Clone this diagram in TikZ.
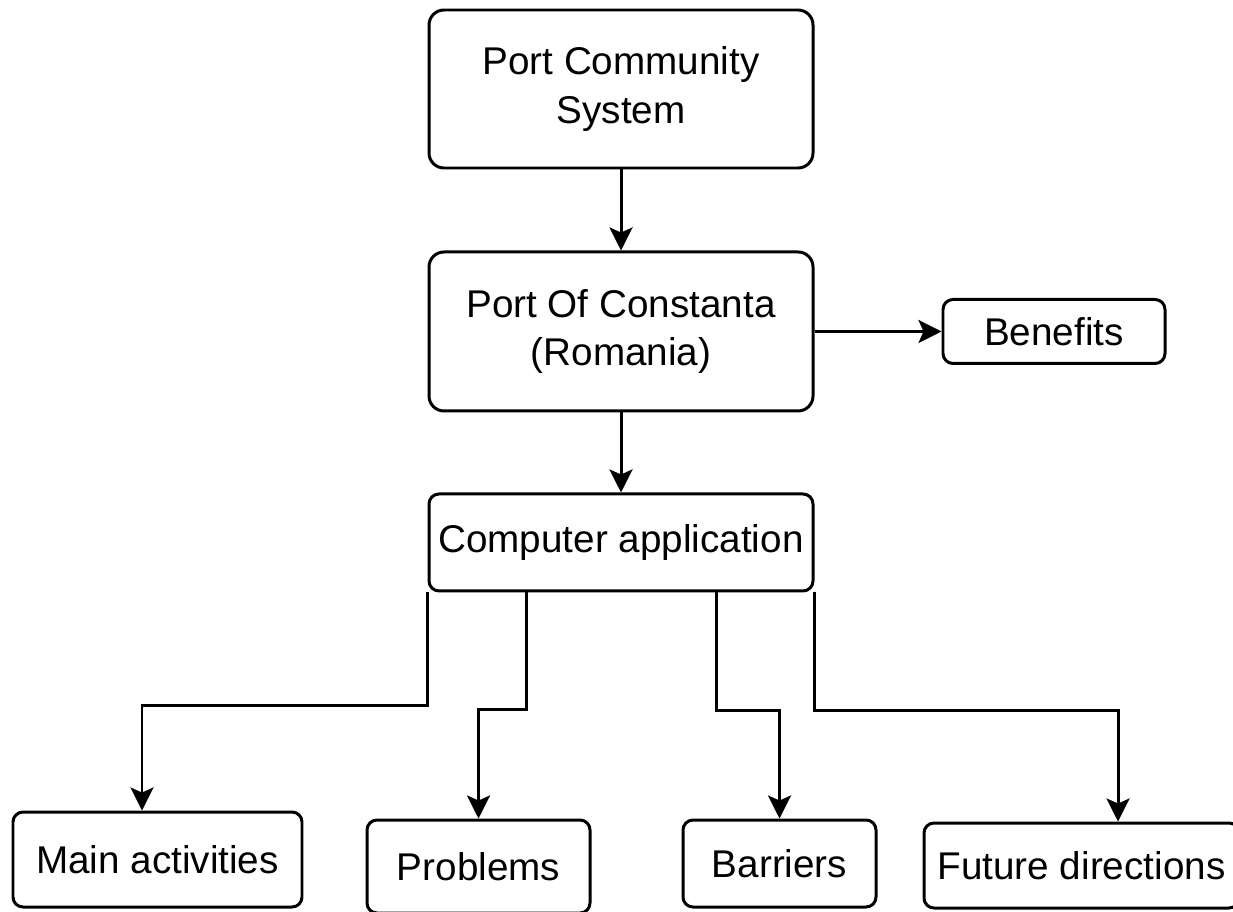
\documentclass[tikz,border=0pt]{standalone}
\usepackage{fontspec}
\setmainfont{Liberation Sans}
\usetikzlibrary{arrows.meta, positioning}

\begin{document}
\begin{tikzpicture}[>={Stealth[length=0.46cm, width=0.46cm, inset=0.1cm]},
  font=\fontsize{22}{27.5}\selectfont,
  box/.style={draw, line width=1.7pt, rounded corners=0.3cm, fill=white, align=center, inner sep=0pt},
  smallbox/.style={box, rounded corners=0.2cm},
  arr/.style={->, line width=1.7pt}]
\useasboundingbox (0,0) rectangle (24.66,-18.22);
\node[box, minimum width=7.68cm, minimum height=3.16cm] (pcs) at (12.42,-1.78) {Port Community\\System};
\node[box, minimum width=7.68cm, minimum height=3.18cm, below=1.62cm of pcs] (poc) {Port Of Constanta\\(Romania)};
\node[smallbox, minimum width=7.68cm, minimum height=1.94cm, below=1.6cm of poc] (app) {Computer application};
\node[smallbox, minimum width=4.44cm, minimum height=1.28cm, right=2.54cm of poc] (ben) {Benefits};
% bottom row
\node[smallbox, minimum width=5.78cm, minimum height=1.9cm] (main) at (3.15,-17.19) {Main activities};
\node[smallbox, minimum width=4.46cm, minimum height=1.86cm] (prob) at (9.57,-17.33) {Problems};
\node[smallbox, minimum width=3.86cm, minimum height=1.74cm] (bar) at (15.59,-17.27) {Barriers};
\node[smallbox, minimum width=6.3cm, minimum height=1.7cm] (fut) at (21.63,-17.31) {Future directions};
\draw[arr] (pcs) -- (poc);
\draw[arr] (poc) -- (app);
\draw[arr] (poc.east) -- (ben);
\draw[arr] (app.south west) -- ++(0,-2.26) -| ([xshift=-0.31cm]main.north);
\draw[arr] ([xshift=-1.9cm]app.south) -- ++(0,-2.34) -| (prob.north);
\draw[arr] ([xshift=1.9cm]app.south) -- ++(0,-2.36) -| (bar.north);
\draw[arr] (app.south east) -- ++(0,-2.36) -| ([xshift=0.73cm]fut.north);
\end{tikzpicture}
\end{document}
